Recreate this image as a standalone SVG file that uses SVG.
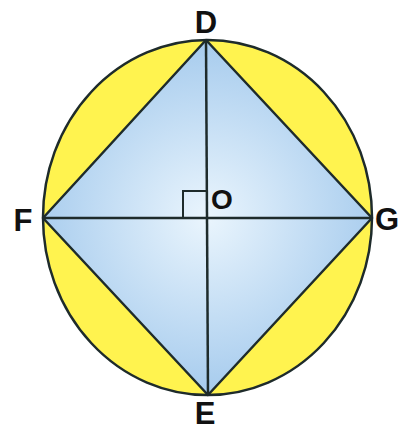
<svg xmlns="http://www.w3.org/2000/svg" width="400" height="431" viewBox="0 0 400 431">
<defs>
<radialGradient id="blue" cx="207" cy="217" r="170" gradientUnits="userSpaceOnUse">
<stop offset="0" stop-color="#eaf5fd"/>
<stop offset="1" stop-color="#a9cdee"/>
</radialGradient>
</defs>
<style>
.ln{stroke:#1e2b2b;stroke-width:2.5;fill:none}
.lbl{font-family:"Liberation Sans",Arial,sans-serif;font-weight:bold;font-size:31px;fill:#111}
</style>
<rect width="400" height="431" fill="#fff"/>
<g id="circle"><ellipse cx="207.5" cy="217.5" rx="164.5" ry="177.5" class="ln" style="fill:#fff34f"/></g>
<g id="square"><polygon points="206,40 372,218 208,395 43,218" fill="url(#blue)" stroke="#1e2b2b" stroke-width="2.5" stroke-linejoin="round"/></g>
<g id="connectors">
<line class="ln" x1="206" y1="40" x2="208" y2="395"/>
<line class="ln" x1="43" y1="218" x2="372" y2="218"/>
<polyline class="ln" points="183,217 183,191 206,191" style="stroke-width:2"/>
</g>
<g id="labels">
<text class="lbl" x="206" y="33" text-anchor="middle">D</text>
<text class="lbl" x="23" y="231" text-anchor="middle">F</text>
<text class="lbl" x="375" y="230">G</text>
<text class="lbl" x="205" y="424" text-anchor="middle">E</text>
<text class="lbl" x="222" y="209" text-anchor="middle" style="font-size:28px">O</text>
</g>
</svg>
